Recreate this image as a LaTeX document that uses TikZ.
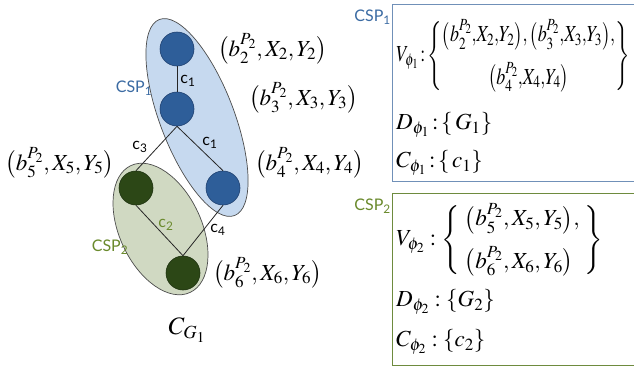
\documentclass[tikz,border=0pt]{standalone}
\usepackage[no-math]{fontspec}
\usepackage{mathptmx}
\setmainfont{Liberation Serif}
\newfontfamily\labfont{Lato}
\definecolor{bnode}{HTML}{2E5E99}
\definecolor{bnodeline}{HTML}{1F4170}
\definecolor{bell}{HTML}{C6D9EF}
\definecolor{gnode}{HTML}{2C4716}
\definecolor{gnodeline}{HTML}{1E3210}
\definecolor{gell}{HTML}{D0D9C2}
\definecolor{btext}{HTML}{3B6BA3}
\definecolor{gtext}{HTML}{6A8A2C}
\definecolor{bbox}{HTML}{7090B8}
\definecolor{gbox}{HTML}{6E8B3E}
\begin{document}
\begin{tikzpicture}[x=1pt,y=1pt,
  bvar/.style={circle,fill=bnode,draw=bnodeline,line width=0.6pt,minimum size=34pt,inner sep=0pt},
  gvar/.style={circle,fill=gnode,draw=gnodeline,line width=0.6pt,minimum size=34pt,inner sep=0pt},
  conn/.style={draw=black!85,line width=0.8pt},
  elab/.style={font=\labfont\fontsize{16}{19}\selectfont,inner sep=1pt},
  tup/.style={font=\fontsize{23}{27}\selectfont,inner sep=0pt},
  boxtxt/.style={font=\fontsize{23}{27}\selectfont,inner sep=0pt,anchor=west}]
\useasboundingbox (0,0) rectangle (634,-367);
\clip (0,0) rectangle (634,-367);
\fill[white] (0,0) rectangle (634,-367);
% ellipses
\draw[fill=bell,draw=black!70,line width=0.7pt,rotate around={21:(197,-117.5)}] (197,-117.5) ellipse [x radius=37, y radius=105];
\draw[fill=gell,draw=black!70,line width=0.7pt,rotate around={25:(160.5,-229)}] (160.5,-229) ellipse [x radius=41, y radius=70];
% nodes
\node[bvar] (n2) at (177,-49) {};
\node[bvar] (n3) at (177,-109) {};
\node[bvar] (n4) at (223,-188) {};
\node[gvar] (n5) at (136,-188) {};
\node[gvar] (n6) at (183,-273) {};
% connectors
\draw[conn] (n2.south) -- (n3.north);
\draw[conn] (n3.south) -- (n5.north);
\draw[conn] (n3.south) -- (n4.north);
\draw[conn] (n5.south) -- (n6.north);
\draw[conn] (n4.south) -- (n6.north);
% edge labels
\node[elab] (l21) at (188,-81) {c\textsubscript{1}};
\node[elab] (l31) at (140,-147) {c\textsubscript{3}};
\node[elab] (l41) at (210,-143) {c\textsubscript{1}};
\node[elab,text=gtext] (l52) at (166,-225) {c\textsubscript{2}};
\node[elab] (l64) at (218,-230) {c\textsubscript{4}};
\node[elab,text=btext] (csp1) at (134,-88) {CSP\textsubscript{1}};
\node[elab,text=gtext] (csp2) at (110,-247) {CSP\textsubscript{2}};
% tuples
\node[tup,anchor=west] (t2) at (218,-49) {$\bigl(b_2^{P_2}, X_2, Y_2\bigr)$};
\node[tup,anchor=west] (t3) at (249,-98) {$\bigl(b_3^{P_2}, X_3, Y_3\bigr)$};
\node[tup,anchor=west] (t4) at (255,-163) {$\bigl(b_4^{P_2}, X_4, Y_4\bigr)$};
\node[tup,anchor=east] (t5) at (114,-163) {$\bigl(b_5^{P_2}, X_5, Y_5\bigr)$};
\node[tup,anchor=west] (t6) at (213,-273) {$\bigl(b_6^{P_2}, X_6, Y_6\bigr)$};
\node[font=\fontsize{25}{30}\selectfont] (cg) at (187,-330) {$C_{G_1}$};
% boxes
\node[draw=bbox,line width=1.4pt,minimum width=260pt,minimum height=177pt,anchor=north west,inner sep=0pt] (box1) at (392,-4) {};
\node[draw=gbox,line width=1.4pt,minimum width=260pt,minimum height=172pt,anchor=north west,inner sep=0pt] (box2) at (392,-193) {};
\node[elab,text=btext,anchor=east] (bl1) at (box1.north west) [yshift=-13pt] {CSP\textsubscript{1}};
\node[elab,text=gtext,anchor=east] (bl2) at (box2.north west) [yshift=-13pt] {CSP\textsubscript{2}};
% box 1 contents
\node[boxtxt] (v1) at (396,-56) {\scalebox{0.78}[1]{$V_{\phi_1}\!:\!\left\{\begin{array}{@{}c@{}}\bigl(b_2^{P_2}{,}X_2{,}Y_2\bigr){,}\,\bigl(b_3^{P_2}{,}X_3{,}Y_3\bigr){,}\\[12pt] \bigl(b_4^{P_2}{,}X_4{,}Y_4\bigr)\end{array}\right\}$}};
\node[boxtxt] (d1) at (396,-125) {$D_{\phi_1}\!:\!\{\,G_1\}$};
\node[boxtxt] (c1) at (396,-163) {$C_{\phi_1}\!:\!\{\,c_1\}$};
% box 2 contents
\node[boxtxt] (v2) at (396,-240) {$V_{\phi_2}:\left\{\begin{array}{l}\bigl(b_5^{P_2}, X_5, Y_5\bigr),\\[12pt] \bigl(b_6^{P_2}, X_6, Y_6\bigr)\end{array}\right\}$};
\node[boxtxt] (d2) at (396,-302) {$D_{\phi_2}:\{G_2\}$};
\node[boxtxt] (c2) at (396,-342) {$C_{\phi_2}:\{c_2\}$};
\end{tikzpicture}
\end{document}
